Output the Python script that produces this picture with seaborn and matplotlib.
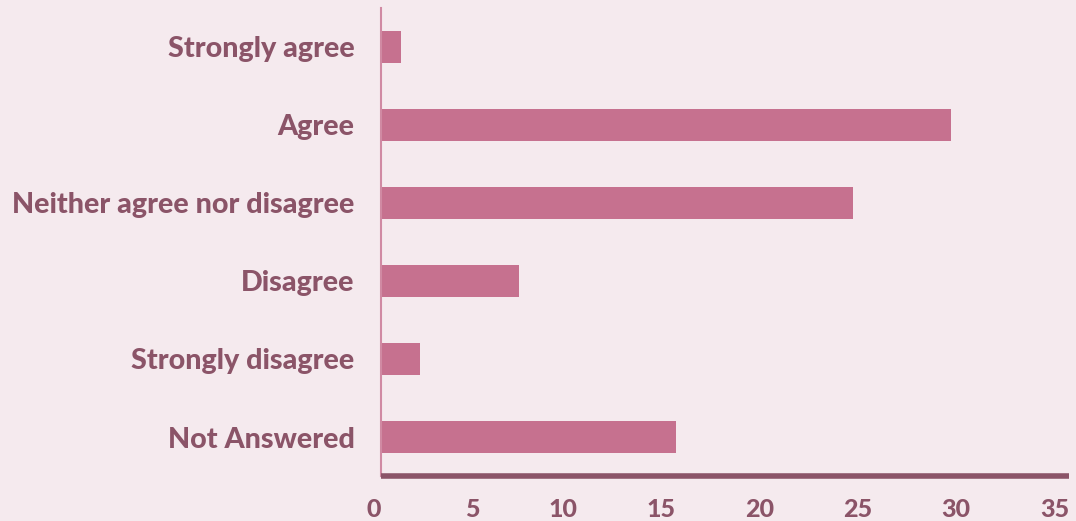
import matplotlib
matplotlib.use("Agg")
import matplotlib.pyplot as plt
import seaborn as sns
import pandas as pd

categories = ["Strongly agree", "Agree", "Neither agree nor disagree",
              "Disagree", "Strongly disagree", "Not Answered"]
counts = [1, 29, 24, 7, 2, 15]
x_ticks = [0, 5, 10, 15, 20, 25, 30, 35]

BG = "#f5eaee"
BAR = "#c6718f"
TEXT = "#8b5468"

sns.set_theme(style="white")
plt.rcParams["font.family"] = ["Lato", "DejaVu Sans"]

df = pd.DataFrame({"response": categories, "count": counts})

fig = plt.figure(figsize=(10.76, 5.21), dpi=100, facecolor=BG)
ax = fig.add_axes([381 / 1076, 1 - 476 / 521, (1069 - 381) / 1076, (476 - 8) / 521])
ax.set_facecolor(BG)

sns.barplot(data=df, x="count", y="response", orient="h", color=BAR,
            saturation=1, width=0.42, linewidth=0, ax=ax)

ax.set_xlim(0, 35)
ax.set_ylim(5.5, -0.5)
ax.set_xlabel("")
ax.set_ylabel("")
ax.set_xticks(x_ticks)
ax.set_xticklabels([str(t) for t in x_ticks], ha="right")

ax.tick_params(axis="both", length=0, colors=TEXT)
ax.tick_params(axis="x", pad=16, labelsize=18)
ax.tick_params(axis="y", pad=19, labelsize=20.7)
for lbl in ax.get_xticklabels() + ax.get_yticklabels():
    lbl.set_fontweight("black")
    lbl.set_color(TEXT)
for lbl in ax.get_yticklabels():
    lbl.set_va("center_baseline")

for side in ["top", "right"]:
    ax.spines[side].set_visible(False)
ax.spines["left"].set_color("#d08aa3")
ax.spines["left"].set_linewidth(1.5)
ax.spines["bottom"].set_color(TEXT)
ax.spines["bottom"].set_linewidth(4)
ax.spines["bottom"].set_capstyle("butt")

fig.savefig("out.png", dpi=100, facecolor=BG)
